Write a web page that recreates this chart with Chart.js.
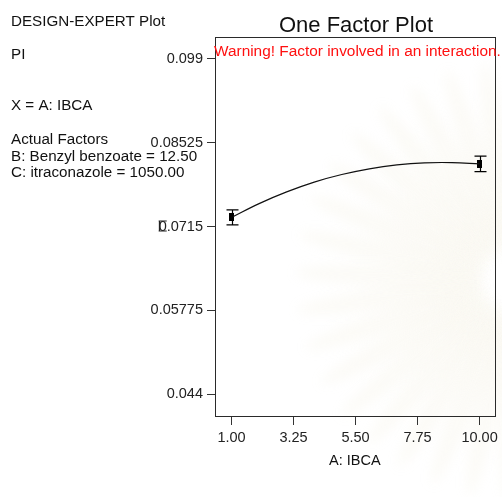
<!DOCTYPE html>
<html>
<head>
<meta charset="utf-8">
<script src="https://cdn.jsdelivr.net/npm/chart.js@4.4.1/dist/chart.umd.min.js"></script>
<style>
  html, body { margin: 0; padding: 0; background: #ffffff; }
  #wrap { width: 502px; height: 497px; }
  canvas { display: block; }
</style>
</head>
<body>
<div id="wrap"><canvas id="chart" width="502" height="497"></canvas></div>
<script>
// Design points of factor A (IBCA) with predicted PI and confidence half-widths
const factorLevels = [1, 10];
const meanPI = [0.0730, 0.08177];
const ciHalf = [0.00123, 0.00128];

// Model prediction curve across the IBCA range
const curveA = [1, 2, 3, 4, 5, 6, 7, 8, 9, 10];
const curvePI = [0.0730, 0.07526, 0.07718, 0.07879, 0.08003, 0.08097, 0.08161, 0.08195, 0.08199, 0.08177];

// Axis ticks
const xTicks = [1, 3.25, 5.5, 7.75, 10];
const xTickLabels = ['1.00', '3.25', '5.50', '7.75', '10.00'];
const yTicks = [0.044, 0.05775, 0.0715, 0.08525, 0.099];
const yTickLabels = ['0.044', '0.05775', '0.0715', '0.08525', '0.099'];

// Side annotations
const sideNotes = [
  ['DESIGN-EXPERT Plot', 26],
  ['PI', 59],
  ['X = A: IBCA', 110],
  ['Actual Factors', 144],
  ['B: Benzyl benzoate = 12.50', 160.5],
  ['C: itraconazole = 1050.00', 177]
];
const titleText = 'One Factor Plot';
const warningText = 'Warning! Factor involved in an interaction.';
const xTitle = 'A: IBCA';

const FONT = '"Liberation Sans", Arial, Helvetica, sans-serif';
const TICK_FONT_SIZE = 14.5;

// small filled rectangle used as the design-point marker
const marker = document.createElement('canvas');
marker.width = 5; marker.height = 8;
(function () {
  const m = marker.getContext('2d');
  m.fillStyle = '#000';
  m.fillRect(0, 0, 5, 8);
})();

const backdrop = {
  id: 'backdrop',
  beforeDraw(chart) {
    const ctx = chart.ctx;
    ctx.save();
    ctx.fillStyle = '#ffffff';
    ctx.fillRect(0, 0, chart.width, chart.height);
    // faint emblem petals behind the plot
    ctx.filter = 'blur(6px)';
    ctx.fillStyle = 'rgba(232, 222, 186, 0.11)';
    const cx = 515, cy = 280;
    for (let a = 92; a <= 272; a += 10) {
      const r = a * Math.PI / 180;
      ctx.save();
      ctx.translate(cx, cy);
      ctx.rotate(r);
      ctx.beginPath();
      ctx.ellipse(125, 0, 95, 11, 0, 0, Math.PI * 2);
      ctx.fill();
      ctx.restore();
    }
    ctx.filter = 'none';
    ctx.restore();
  }
};

const decorations = {
  id: 'decorations',
  afterDatasetsDraw(chart) {
    const ctx = chart.ctx;
    const xs = chart.scales.x, ys = chart.scales.y;
    const a = chart.chartArea;
    ctx.save();

    // confidence bars at the design points
    ctx.strokeStyle = '#000';
    ctx.lineWidth = 1.2;
    for (let i = 0; i < factorLevels.length; i++) {
      const px = Math.round(xs.getPixelForValue(factorLevels[i])) + 0.5;
      const yTop = ys.getPixelForValue(meanPI[i] + ciHalf[i]);
      const yBot = ys.getPixelForValue(meanPI[i] - ciHalf[i]);
      ctx.beginPath();
      ctx.moveTo(px, yTop); ctx.lineTo(px, yBot);
      ctx.moveTo(px - 6, yTop); ctx.lineTo(px + 6, yTop);
      ctx.moveTo(px - 6, yBot); ctx.lineTo(px + 6, yBot);
      ctx.stroke();
    }

    // plot frame
    ctx.strokeStyle = '#2a2a2a';
    ctx.lineWidth = 1;
    ctx.strokeRect(Math.round(a.left) + 0.5, Math.round(a.top) + 0.5,
                   Math.round(a.right - a.left), Math.round(a.bottom - a.top));

    // small bar glyph sitting over the leading zero of the 0.0715 label
    const gy = ys.getPixelForValue(0.0715);
    ctx.font = TICK_FONT_SIZE + 'px ' + FONT;
    const lw = ctx.measureText('0.0715').width;
    const gx = a.left - 8 - 4 - lw;
    const zw = ctx.measureText('0').width;
    ctx.strokeStyle = '#222';
    ctx.lineWidth = 1.2;
    ctx.beginPath();
    ctx.moveTo(gx, gy - 5.5); ctx.lineTo(gx + zw, gy - 5.5);
    ctx.moveTo(gx + 0.8, gy - 5.5); ctx.lineTo(gx + 0.8, gy + 4.5);
    ctx.moveTo(gx, gy + 4.5); ctx.lineTo(gx + zw, gy + 4.5);
    ctx.stroke();

    // titles and notes
    ctx.fillStyle = '#111';
    ctx.textBaseline = 'alphabetic';
    ctx.textAlign = 'center';
    ctx.font = '22px ' + FONT;
    ctx.fillText(titleText, 356, 32);

    ctx.textAlign = 'left';
    ctx.font = '15.2px ' + FONT;
    sideNotes.forEach(([t, y]) => ctx.fillText(t, 11, y));

    ctx.fillStyle = '#ff1010';
    ctx.font = '15.4px ' + FONT;
    ctx.fillText(warningText, 214, 56);
    ctx.restore();
  }
};

new Chart(document.getElementById('chart'), {
  type: 'scatter',
  data: {
    datasets: [
      {
        type: 'line',
        data: curveA.map((x, i) => ({ x, y: curvePI[i] })),
        borderColor: '#111',
        borderWidth: 1.2,
        pointRadius: 0,
        fill: false,
        tension: 0.4
      },
      {
        data: factorLevels.map((x, i) => ({ x, y: meanPI[i] })),
        pointStyle: marker,
        pointRadius: 4,
        backgroundColor: '#000',
        borderColor: '#000'
      }
    ]
  },
  options: {
    responsive: false,
    devicePixelRatio: 1,
    animation: false,
    layout: { padding: { left: 0, top: 37, right: 4, bottom: 0 } },
    plugins: { legend: { display: false }, title: { display: false }, tooltip: { enabled: false } },
    scales: {
      x: {
        type: 'linear',
        min: 0.4,
        max: 10.55,
        afterFit(s) { s.height = 81; },
        afterBuildTicks(s) { s.ticks = xTicks.map(v => ({ value: v })); },
        grid: { drawOnChartArea: false, drawTicks: true, tickLength: 9, tickColor: '#333', tickWidth: 1 },
        border: { display: true, color: '#2a2a2a' },
        ticks: {
          color: '#222',
          font: { family: FONT, size: TICK_FONT_SIZE },
          padding: 4,
          maxRotation: 0,
          autoSkip: false,
          callback: (v, i) => xTickLabels[i]
        },
        title: {
          display: true,
          text: xTitle,
          color: '#111',
          font: { family: FONT, size: TICK_FONT_SIZE },
          padding: { top: 0, bottom: 27 }
        }
      },
      y: {
        type: 'linear',
        min: 0.0404,
        max: 0.1026,
        afterFit(s) { s.width = 215; },
        afterBuildTicks(s) { s.ticks = yTicks.map(v => ({ value: v })); },
        grid: { drawOnChartArea: false, drawTicks: true, tickLength: 8, tickColor: '#333', tickWidth: 1 },
        border: { display: true, color: '#2a2a2a' },
        ticks: {
          color: '#222',
          font: { family: FONT, size: TICK_FONT_SIZE },
          padding: 4,
          autoSkip: false,
          callback: (v, i) => yTickLabels[i]
        }
      }
    }
  },
  plugins: [backdrop, decorations]
});
</script>
</body>
</html>
